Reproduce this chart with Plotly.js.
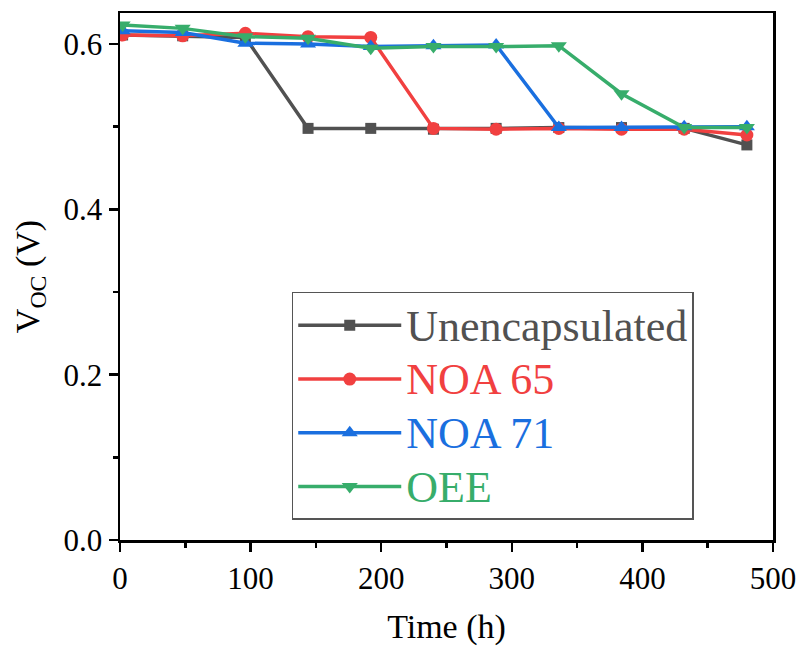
<!DOCTYPE html>
<html>
<head>
<meta charset="utf-8">
<script src="https://cdn.plot.ly/plotly-3.0.1.min.js"></script>
<style>body{margin:0;padding:0;background:#fff}#chart{width:799px;height:647px}</style>
</head>
<body>
<div id="chart"></div>
<script>
const time = [2, 48, 96, 144, 192, 240, 288, 336, 384, 432, 480];
const unencapsulated = [0.611, 0.610, 0.608, 0.498, 0.498, 0.497, 0.498, 0.499, 0.499, 0.498, 0.478];
const noa65 = [0.611, 0.610, 0.613, 0.609, 0.608, 0.498, 0.497, 0.498, 0.497, 0.497, 0.490];
const noa71 = [0.616, 0.614, 0.601, 0.600, 0.597, 0.598, 0.599, 0.499, 0.499, 0.500, 0.500];
const oee = [0.623, 0.619, 0.609, 0.607, 0.595, 0.597, 0.597, 0.598, 0.540, 0.499, 0.499];
const seriesNames = ["Unencapsulated", "NOA 65", "NOA 71", "OEE"];
const colors = ["#515151", "#F14040", "#1A6FDF", "#37AD6B"];
const symbols = ["square", "circle", "triangle-up", "triangle-down"];
const markerSizes = [11, 13, 14, 14];
const ys = [unencapsulated, noa65, noa71, oee];

const traces = ys.map((y, i) => ({
  x: time, y: y, type: "scatter", mode: "lines+markers",
  name: '<span style="color:' + colors[i] + ';font-size:44px">' + seriesNames[i] + '</span>',
  line: {color: colors[i], width: 3.5},
  marker: {color: colors[i], symbol: symbols[i], size: markerSizes[i]}
}));

const font = "'Liberation Serif', 'Times New Roman', serif";
const layout = {
  width: 799, height: 647,
  margin: {l: 120, r: 26, t: 13, b: 107},
  paper_bgcolor: "#fff", plot_bgcolor: "#fff",
  font: {family: font, size: 30, color: "#000"},
  showlegend: true,
  legend: {
    x: 0.263, y: 0.4706, xanchor: "left", yanchor: "top",
    bgcolor: "rgba(255,255,255,0)", bordercolor: "#555", borderwidth: 1.5,
    font: {family: font, size: 39},
    itemwidth: 103, tracegroupgap: 0
  },
  xaxis: {
    range: [0, 500], tickvals: [0, 100, 200, 300, 400, 500],
    ticks: "outside", ticklen: 9, tickwidth: 2.5, tickcolor: "#000",
    minor: {tickvals: [50, 150, 250, 350, 450], ticks: "outside", ticklen: 5, tickwidth: 2.5, tickcolor: "#000"},
    showline: true, linewidth: 2.5, linecolor: "#000", mirror: true,
    showgrid: false, zeroline: false,
    tickfont: {family: font, size: 31},
    title: {text: "Time (h)", font: {family: font, size: 34}, standoff: 20}
  },
  yaxis: {
    range: [0, 0.6376], tickvals: [0, 0.2, 0.4, 0.6], ticktext: ["0.0", "0.2", "0.4", "0.6"],
    ticks: "outside", ticklen: 9, tickwidth: 2.5, tickcolor: "#000",
    minor: {tickvals: [0.1, 0.3, 0.5], ticks: "outside", ticklen: 5, tickwidth: 2.5, tickcolor: "#000"},
    showline: true, linewidth: 2.5, linecolor: "#000", mirror: true,
    showgrid: false, zeroline: false,
    tickfont: {family: font, size: 31},
    title: {text: "V<sub>OC</sub> (V)", font: {family: font, size: 34}, standoff: 14}
  }
};
Plotly.newPlot("chart", traces, layout, {displayModeBar: false, staticPlot: true});
</script>
</body>
</html>
